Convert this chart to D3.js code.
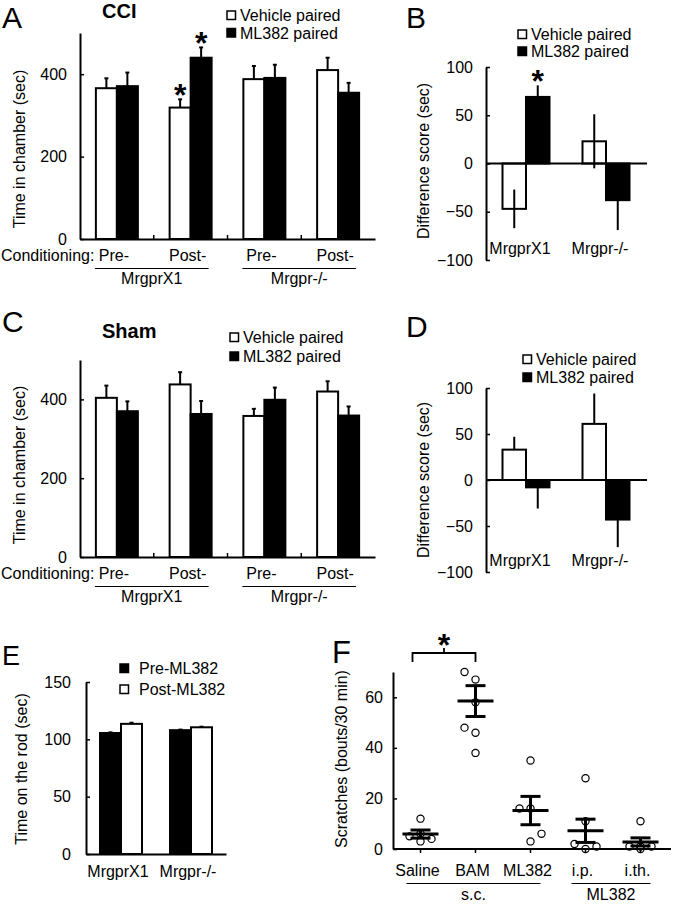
<!DOCTYPE html>
<html><head><meta charset="utf-8">
<script src="https://cdn.jsdelivr.net/npm/d3@7"></script>
<style>
body{margin:0;background:#fff}
text{font-family:"Liberation Sans",Arial,Helvetica,sans-serif;fill:#000}
</style>
</head><body>
<svg id="c" width="677" height="904" xmlns="http://www.w3.org/2000/svg"></svg>
<script>
// ---------- DATA ----------
const condCats = ["Pre-X1", "Post-X1", "Pre-KO", "Post-KO"];
const condLabels = ["Pre-", "Post-", "Pre-", "Post-"];
const genotypes = ["MrgprX1", "Mrgpr-/-"];
const cppSeries = ["Vehicle paired", "ML382 paired"];

// Panel A (CCI) time in chamber (sec)
const cciVehicle = [366, 319, 388, 410];
const cciVehicleErr = [24, 20, 32, 30];
const cciML382 = [371, 440, 391, 355];
const cciML382Err = [33, 25, 32, 24];
const cciStars = [[1, 0], [1, 1]]; // [category index, series index]

// Panel B (CCI) difference score (sec)
const diffCciVehicle = [-47, 23];
const diffCciVehicleErr = [20, 28];
const diffCciML382 = [69, -38];
const diffCciML382Err = [12, 31];

// Panel C (Sham) time in chamber (sec)
const shamVehicle = [404, 438, 358, 420];
const shamVehicleErr = [31, 31, 18, 26];
const shamML382 = [370, 363, 399, 359];
const shamML382Err = [25, 33, 31, 23];

// Panel D (Sham) difference score (sec)
const diffShamVehicle = [33, 61];
const diffShamVehicleErr = [14, 33];
const diffShamML382 = [-8, -43];
const diffShamML382Err = [23, 30];

// Panel E rotarod
const rotaSeries = ["Pre-ML382", "Post-ML382"];
const rotaPre = [105.5, 108];
const rotaPreErr = [0.6, 0.5];
const rotaPost = [113.5, 110.5];
const rotaPostErr = [1.0, 0.5];

// Panel F scratches
const itchGroups = ["Saline", "BAM", "ML382", "i.p.", "i.th."];
const itchPoints = [[12, 5, 3, 4, 6], [70, 67, 58, 48, 46, 38], [35, 16, 16, 3, 6], [28, 11, 2, 0, 1], [11, 1, 0, 1, 1]];
const itchSlots = [[0, -1, 0, 1, 0], [-1, 0, 0, -1, 0, 0], [0, -1, 0, 0, 1], [0, 0, -1, 0, 1], [0, -1, 0, 1, 0]];
const itchMean = [5.9, 58.5, 15.2, 7.2, 2.8];
const itchSEM = [1.6, 6.1, 5.6, 4.6, 1.6];
const itchRouteGroups = [["s.c.", 0, 2], ["ML382", 3, 4]];

// ---------- DRAWING ----------
const svg = d3.select("#c");
svg.append("rect").attr("width", 677).attr("height", 904).attr("fill", "#fff");
const FS = 16;

function styleAxis(g, tickW) {
  g.attr("font-size", null).attr("font-family", null);
  g.select(".domain").attr("stroke", "#000").attr("stroke-width", 2);
  g.selectAll(".tick line").attr("stroke", "#000").attr("stroke-width", tickW || 1.5);
  g.selectAll(".tick text").attr("font-size", FS).attr("fill", "#000");
}

function yAxis(x0, y, ticks, pad) {
  const g = svg.append("g").attr("transform", `translate(${x0},0)`)
    .call(d3.axisLeft(y).tickValues(ticks).tickSizeInner(-4).tickSizeOuter(0).tickPadding(pad));
  styleAxis(g);
  return g;
}

function yLabel(txt, x, yc) {
  svg.append("text").attr("transform", `translate(${x},${yc}) rotate(-90)`)
    .attr("text-anchor", "middle").attr("font-size", FS).text(txt);
}

function panelLetter(txt, x, y, fs) {
  svg.append("text").attr("x", x).attr("y", y).attr("font-size", fs).text(txt);
}

function legend(x, y, items, fills, gap, textOff) {
  items.forEach((t, i) => {
    const by = y + i * gap;
    svg.append("rect").attr("x", x).attr("y", by - 10).attr("width", 8.5).attr("height", 8.5)
      .attr("fill", fills[i]).attr("stroke", "#000").attr("stroke-width", 1.5);
    svg.append("text").attr("x", x + (textOff || 13)).attr("y", by).attr("font-size", FS).text(t);
  });
}

function bars(x, y, cats, vals, errs, offset, bw, fill, mode, cap) {
  const g = svg.append("g");
  cats.forEach((c, i) => {
    const v = vals[i];
    const bx = x(c) + x.bandwidth() / 2 + offset;
    g.append("rect").attr("x", bx).attr("width", bw)
      .attr("y", y(Math.max(v, 0))).attr("height", Math.abs(y(v) - y(0)))
      .attr("fill", fill).attr("stroke", "#000").attr("stroke-width", 2);
  });
  cats.forEach((c, i) => {
    const v = vals[i], e = errs[i];
    const cx = x(c) + x.bandwidth() / 2 + offset + bw / 2;
    const s = v >= 0 ? 1 : -1;
    const y1 = mode === "both" ? y(v - s * e) : y(v);
    const y2 = y(v + s * e);
    g.append("line").attr("x1", cx).attr("x2", cx).attr("y1", y1).attr("y2", y2)
      .attr("stroke", fill === "#000" ? "#000" : "#000").attr("stroke-width", 2);
    if (cap > 0) {
      g.append("line").attr("x1", cx - cap / 2).attr("x2", cx + cap / 2).attr("y1", y2).attr("y2", y2)
        .attr("stroke", "#000").attr("stroke-width", 2);
    }
  });
}

function star(cx, cy, fs) {
  svg.append("text").attr("x", cx).attr("y", cy + 0.52 * fs).attr("text-anchor", "middle")
    .attr("font-size", fs).attr("font-weight", "bold").text("*");
}

// ---- Panels A & C (time in chamber) ----
function chamberPanel(opts) {
  const x = d3.scaleBand().domain(condCats).range([80, 375]);
  const y = d3.scaleLinear().domain([0, 500]).range([opts.y0, opts.yTop]);
  const bw = 21;
  bars(x, y, condCats, opts.veh, opts.vehErr, -bw, bw, "#fff", "out", 4);
  bars(x, y, condCats, opts.ml, opts.mlErr, 0, bw, "#000", "out", 4);
  yAxis(80, y, [0, 200, 400], 13);
  const gx = svg.append("g").attr("transform", `translate(0,${opts.y0})`)
    .call(d3.axisBottom(x).tickSize(0).tickFormat(""));
  styleAxis(gx);
  condCats.slice(1).forEach(c => {
    svg.append("line").attr("x1", x(c)).attr("x2", x(c)).attr("y1", opts.y0).attr("y2", opts.y0 - 4)
      .attr("stroke", "#000").attr("stroke-width", 1.5);
  });
  svg.append("text").attr("x", 1).attr("y", opts.y0 + 22).attr("font-size", FS).text("Conditioning:");
  condCats.forEach((c, i) => {
    svg.append("text").attr("x", x(c) + x.bandwidth() / 2 - 3).attr("y", opts.y0 + 22)
      .attr("text-anchor", "middle").attr("font-size", FS).text(condLabels[i]);
  });
  genotypes.forEach((gname, gi) => {
    const c0 = condCats[gi * 2], c1 = condCats[gi * 2 + 1];
    const xa = x(c0) + x.bandwidth() / 2 - 22, xb = x(c1) + x.bandwidth() / 2 + 18;
    svg.append("line").attr("x1", xa).attr("x2", xb).attr("y1", opts.y0 + 29.5).attr("y2", opts.y0 + 29.5)
      .attr("stroke", "#000").attr("stroke-width", 1.2);
    svg.append("text").attr("x", (xa + xb) / 2).attr("y", opts.y0 + 45)
      .attr("text-anchor", "middle").attr("font-size", FS).text(gname);
  });
  if (opts.stars) {
    opts.stars.forEach(([ci, si]) => {
      const c = condCats[ci];
      const v = si === 0 ? opts.veh[ci] : opts.ml[ci];
      const e = si === 0 ? opts.vehErr[ci] : opts.mlErr[ci];
      const cx = x(c) + x.bandwidth() / 2 + (si === 0 ? -bw / 2 : bw / 2);
      star(cx, y(v + e) - 10, 32);
    });
  }
}

chamberPanel({ y0: 239, yTop: 33, veh: cciVehicle, vehErr: cciVehicleErr, ml: cciML382, mlErr: cciML382Err, stars: cciStars });
yLabel("Time in chamber (sec)", 25, 149);
panelLetter("A", 2, 28, 30);
svg.append("text").attr("x", 102).attr("y", 17.5).attr("font-size", 20).attr("font-weight", "bold").text("CCI");
legend(227, 21, cppSeries, ["#fff", "#000"], 17.5);

chamberPanel({ y0: 557, yTop: 360, veh: shamVehicle, vehErr: shamVehicleErr, ml: shamML382, mlErr: shamML382Err });
yLabel("Time in chamber (sec)", 25, 465);
panelLetter("C", 2, 332, 30);
svg.append("text").attr("x", 102).attr("y", 338).attr("font-size", 20).attr("font-weight", "bold").text("Sham");
legend(230, 343, cppSeries, ["#fff", "#000"], 19);

// ---- Panels B & D (difference score) ----
function diffPanel(opts) {
  const x = d3.scaleBand().domain(genotypes).range([486, 646]);
  const y = d3.scaleLinear().domain([-100, 100]).range([opts.yBot, opts.yTop]);
  const bw = 23.5;
  bars(x, y, genotypes, opts.veh, opts.vehErr, -bw, bw, "#fff", opts.errMode, 0);
  bars(x, y, genotypes, opts.ml, opts.mlErr, 0, bw, "#000", opts.errMode, 0);
  yAxis(486, y, [-100, -50, 0, 50, 100], 13);
  const gx = svg.append("g").attr("transform", `translate(0,${y(0)})`)
    .call(d3.axisBottom(x).tickSize(0).tickFormat(""));
  styleAxis(gx);
  gx.select(".domain").attr("d", `M486,0H647`);
  genotypes.forEach(gname => {
    svg.append("text").attr("x", x(gname) + x.bandwidth() / 2 - 6).attr("y", opts.yBot - 6)
      .attr("text-anchor", "middle").attr("font-size", FS).text(gname);
  });
  if (opts.stars) {
    opts.stars.forEach(([ci, si]) => {
      const v = si === 0 ? opts.veh[ci] : opts.ml[ci];
      const e = si === 0 ? opts.vehErr[ci] : opts.mlErr[ci];
      const cx = x(genotypes[ci]) + x.bandwidth() / 2 + (si === 0 ? -bw / 2 : bw / 2);
      star(cx, y(v + e) - 10, 32);
    });
  }
}

diffPanel({ yTop: 67, yBot: 260, veh: diffCciVehicle, vehErr: diffCciVehicleErr, ml: diffCciML382, mlErr: diffCciML382Err, errMode: "both", stars: [[0, 1]] });
yLabel("Difference score (sec)", 429, 161);
panelLetter("B", 406, 28, 30);
legend(518, 40, cppSeries, ["#fff", "#000"], 17);

diffPanel({ yTop: 388, yBot: 572, veh: diffShamVehicle, vehErr: diffShamVehicleErr, ml: diffShamML382, mlErr: diffShamML382Err, errMode: "out" });
yLabel("Difference score (sec)", 429, 480);
panelLetter("D", 406, 337, 30);
legend(523, 365, cppSeries, ["#fff", "#000"], 18);

// ---- Panel E (rotarod) ----
(function () {
  const x = d3.scaleBand().domain(genotypes).range([86, 226]);
  const y = d3.scaleLinear().domain([0, 150]).range([854, 682]);
  const bw = 21;
  bars(x, y, genotypes, rotaPre, rotaPreErr, -bw, bw, "#000", "out", 4);
  bars(x, y, genotypes, rotaPost, rotaPostErr, 0, bw, "#fff", "out", 4);
  yAxis(86, y, [0, 50, 100, 150], 15);
  const gx = svg.append("g").attr("transform", `translate(0,${y(0)})`)
    .call(d3.axisBottom(x).tickSize(0).tickFormat(""));
  styleAxis(gx);
  genotypes.forEach(gname => {
    svg.append("text").attr("x", x(gname) + x.bandwidth() / 2 - 3).attr("y", 877)
      .attr("text-anchor", "middle").attr("font-size", FS).text(gname);
  });
  yLabel("Time on the rod (sec)", 27, 769);
  panelLetter("E", 2, 665, 27);
  legend(120, 674, rotaSeries, ["#000", "#fff"], 21, 19);
})();

// ---- Panel F (scratches) ----
(function () {
  const x = d3.scaleBand().domain(itchGroups).range([393, 668]);
  const y = d3.scaleLinear().domain([0, 70]).range([849, 672]);
  const cx = g => x(g) + x.bandwidth() / 2;
  itchGroups.forEach((g, gi) => {
    itchPoints[gi].forEach((v, pi) => {
      svg.append("circle").attr("cx", cx(g) + itchSlots[gi][pi] * 11).attr("cy", y(v)).attr("r", 3.6)
        .attr("fill", "none").attr("stroke", "#000").attr("stroke-width", 1.2);
    });
  });
  itchGroups.forEach((g, gi) => {
    const m = itchMean[gi], s = itchSEM[gi], c = cx(g);
    const line = (x1, x2, y1, y2) => svg.append("line").attr("x1", x1).attr("x2", x2).attr("y1", y1).attr("y2", y2)
      .attr("stroke", "#000").attr("stroke-width", 3);
    line(c - 18, c + 18, y(m), y(m));
    line(c, c, y(m - s), y(m + s));
    line(c - 10, c + 10, y(m + s), y(m + s));
    line(c - 10, c + 10, y(m - s), y(m - s));
  });
  yAxis(393, y, [0, 20, 40, 60], 10);
  const gx = svg.append("g").attr("transform", `translate(0,849)`)
    .call(d3.axisBottom(x).tickSizeInner(4).tickSizeOuter(0).tickPadding(12));
  styleAxis(gx);
  gx.select(".domain").attr("d", "M393,0H671");
  gx.selectAll(".tick text").attr("dx", "-3");
  itchRouteGroups.forEach(([lbl, a, b]) => {
    const xa = cx(itchGroups[a]) - 14, xb = cx(itchGroups[b]) + 10;
    svg.append("line").attr("x1", xa).attr("x2", xb).attr("y1", 883.5).attr("y2", 883.5)
      .attr("stroke", "#000").attr("stroke-width", 1.2);
    svg.append("text").attr("x", (xa + xb) / 2).attr("y", 900).attr("text-anchor", "middle")
      .attr("font-size", FS).text(lbl);
  });
  const bx1 = cx(itchGroups[0]) - 8, bx2 = cx(itchGroups[1]), by = y(70) - 19;
  svg.append("path").attr("d", `M${bx1},${by + 9}V${by}H${bx2}V${by + 9}M${(bx1 + bx2) / 2},${by}V${by - 5}`)
    .attr("fill", "none").attr("stroke", "#000").attr("stroke-width", 1.8);
  star((bx1 + bx2) / 2, by - 14, 32);
  yLabel("Scratches (bouts/30 min)", 347, 759);
  panelLetter("F", 332, 663, 31);
})();
</script>
</body></html>
